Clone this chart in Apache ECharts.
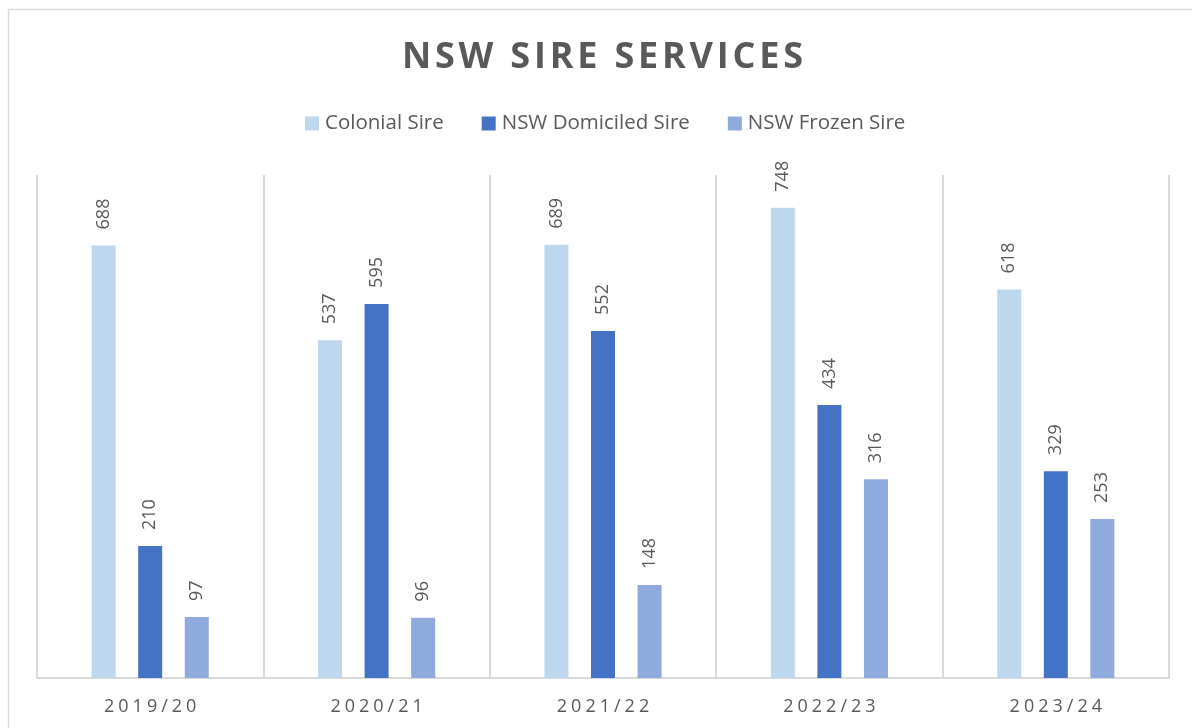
<!DOCTYPE html>
<html>
<head>
<meta charset="utf-8">
<script src="https://cdn.jsdelivr.net/npm/echarts@6/dist/echarts.min.js"></script>
<style>html,body{margin:0;padding:0;background:#fff;}#c{width:1192px;height:728px;}</style>
</head>
<body>
<div id="c"></div>
<script>
const titleText = 'NSW SIRE SERVICES';
const categories = ['2019/20', '2020/21', '2021/22', '2022/23', '2023/24'];
const seriesNames = ['Colonial Sire', 'NSW Domiciled Sire', 'NSW Frozen Sire'];
const colonial = [688, 537, 689, 748, 618];
const domiciled = [210, 595, 552, 434, 329];
const frozen = [97, 96, 148, 316, 253];
const colors = ['#BDD7EE', '#4472C4', '#8FAADC'];

const FONT = 'Open Sans';
const GRAY = '#595959';

function spaced(s) {
  return s.split('').map(ch => ch === ' ' ? '{sp|\u00a0}' : '{c|' + ch + '}').join('');
}

const chart = echarts.init(document.getElementById('c'), null, {renderer: 'canvas'});
const mk = (name, data, color) => ({
  name: name,
  type: 'bar',
  data: data,
  barWidth: 24,
  barGap: '94%',
  itemStyle: {color: color},
  label: {
    show: true,
    position: 'top',
    rotate: 90,
    align: 'left',
    verticalAlign: 'middle',
    distance: 16,
    color: GRAY,
    fontFamily: FONT,
    fontSize: 18
  }
});
chart.setOption({
  animation: false,
  backgroundColor: '#fff',
  graphic: [{
    type: 'rect',
    shape: {x: 8.5, y: 9.5, width: 1300, height: 800},
    style: {fill: 'none', stroke: '#d9d9d9', lineWidth: 1.5},
    silent: true
  }],
  title: {
    text: spaced(titleText),
    left: 395,
    top: 35,
    textStyle: {
      rich: {
        c: {fontFamily: FONT, fontWeight: 'bold', fontSize: 36, color: GRAY, padding: [0, 1.9]},
        sp: {fontFamily: FONT, fontWeight: 'bold', fontSize: 36, color: GRAY, padding: [0, 1.9]}
      }
    }
  },
  legend: {
    data: seriesNames,
    top: 108,
    left: 300,
    itemWidth: 14,
    itemHeight: 14,
    itemGap: 38,
    icon: 'rect',
    textStyle: {color: GRAY, fontFamily: FONT, fontSize: 20.5, padding: [0, 0, 0, 1]}
  },
  grid: {left: 37, right: 23, top: 175, bottom: 50, containLabel: false},
  xAxis: {
    type: 'category',
    data: categories,
    boundaryGap: true,
    axisLine: {lineStyle: {color: '#d9d9d9', width: 2}},
    axisTick: {show: false},
    splitLine: {show: true, lineStyle: {color: '#d9d9d9', width: 2}},
    axisLabel: {
      margin: 20,
      formatter: v => spaced(v),
      rich: {
        c: {fontFamily: FONT, fontSize: 18, color: GRAY, padding: [0, 2]}
      }
    }
  },
  yAxis: {
    type: 'value',
    min: 0,
    max: 800,
    show: false,
    splitLine: {show: false}
  },
  series: [mk(seriesNames[0], colonial, colors[0]), mk(seriesNames[1], domiciled, colors[1]), mk(seriesNames[2], frozen, colors[2])]
});
</script>
</body>
</html>
